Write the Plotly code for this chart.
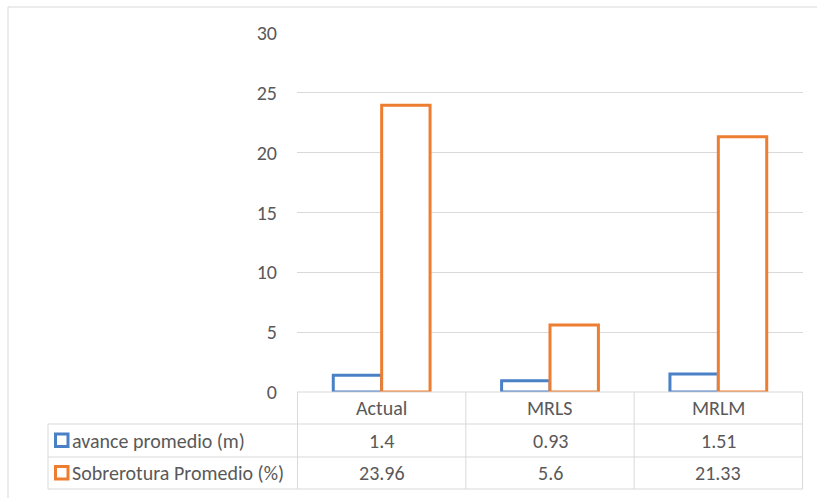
import plotly.graph_objects as go

categories = ["Actual", "MRLS", "MRLM"]
avance = [1.4, 0.93, 1.51]
sobre = [23.96, 5.6, 21.33]
series_names = ["avance promedio (m)", "Sobrerotura Promedio (%)"]
colors = ["#4A80C6", "#ED7D31"]
yticks = [0, 5, 10, 15, 20, 25, 30]

W, H = 817, 498
def px(p):
    return p / W
def py(p):
    return 1 - p / H

FONT = "Carlito, Calibri, Lato, sans-serif"
TXT = "#595959"
GRID = "#d9d9d9"
FS = 20

fig = go.Figure()
for name, vals, c in zip(series_names, [avance, sobre], colors):
    fig.add_trace(go.Bar(
        x=categories, y=vals, name=name,
        marker=dict(color="white", line=dict(color=c, width=3)),
        showlegend=False, hoverinfo="skip"))

x_left, x_right = 297, 803
y_top, y_zero = 33, 392
row_lines = [392, 424, 457, 489]

shapes = []
# outer chart border (right and bottom edges fall outside the picture)
shapes.append(dict(type="rect", xref="paper", yref="paper",
                   x0=px(8), x1=px(830), y0=py(510), y1=py(7),
                   line=dict(color=GRID, width=1)))
# table horizontal lines
shapes.append(dict(type="line", xref="paper", yref="paper",
                   x0=px(x_left), x1=px(x_right), y0=py(row_lines[0]), y1=py(row_lines[0]),
                   line=dict(color=GRID, width=1)))
for r in row_lines[1:]:
    shapes.append(dict(type="line", xref="paper", yref="paper",
                       x0=px(48), x1=px(x_right), y0=py(r), y1=py(r),
                       line=dict(color=GRID, width=1)))
# table vertical lines at category boundaries
for b in [-0.5, 0.5, 1.5, 2.5]:
    shapes.append(dict(type="line", xref="x", yref="paper",
                       x0=b, x1=b, y0=py(row_lines[-1]), y1=py(row_lines[0]),
                       line=dict(color=GRID, width=1)))
shapes.append(dict(type="line", xref="paper", yref="paper",
                   x0=px(48), x1=px(48), y0=py(row_lines[-1]), y1=py(row_lines[1]),
                   line=dict(color=GRID, width=1)))

annotations = []
# header row
hy = (row_lines[0] + row_lines[1]) / 2
for c in categories:
    annotations.append(dict(x=c, y=py(hy), xref="x", yref="paper", text=c,
                            xanchor="center", yanchor="middle",
                            showarrow=False, font=dict(family=FONT, size=FS, color=TXT)))
# data rows
for ri, (name, vals, col) in enumerate(zip(series_names, [avance, sobre], colors)):
    yc = (row_lines[ri + 1] + row_lines[ri + 2]) / 2
    for c, v in zip(categories, vals):
        annotations.append(dict(x=c, y=py(yc), xref="x", yref="paper", text=str(v),
                                xanchor="center", yanchor="middle",
                                showarrow=False, font=dict(family=FONT, size=FS, color=TXT)))
    annotations.append(dict(x=px(70), y=py(yc), xref="paper", yref="paper", text=name,
                            xanchor="left", yanchor="middle", showarrow=False,
                            font=dict(family=FONT, size=FS, color=TXT)))
    shapes.append(dict(type="rect", xref="paper", yref="paper",
                       x0=px(55.5), x1=px(68), y0=py(yc + 6), y1=py(yc - 6.5),
                       fillcolor="white", line=dict(color=col, width=3)))

fig.update_layout(
    width=W, height=H,
    margin=dict(l=0, r=0, t=0, b=0, pad=0, autoexpand=False),
    paper_bgcolor="white", plot_bgcolor="white",
    barmode="group", bargap=0.425, bargroupgap=0,
    xaxis=dict(domain=[px(x_left), px(x_right)], showticklabels=False, automargin=False,
               showgrid=False, zeroline=False, showline=False, ticks=""),
    yaxis=dict(domain=[py(y_zero), py(y_top)], range=[0, 30], tickvals=yticks, automargin=False,
               showgrid=True, gridcolor=GRID, gridwidth=1, zeroline=False,
               showline=False, ticks="", ticklabelstandoff=19,
               tickfont=dict(family=FONT, size=FS, color=TXT)),
    shapes=shapes, annotations=annotations,
    font=dict(family=FONT),
)

fig.write_html("out.html", config={"displayModeBar": False},
               post_script="document.body.style.margin='0';document.body.style.overflow='hidden';")
